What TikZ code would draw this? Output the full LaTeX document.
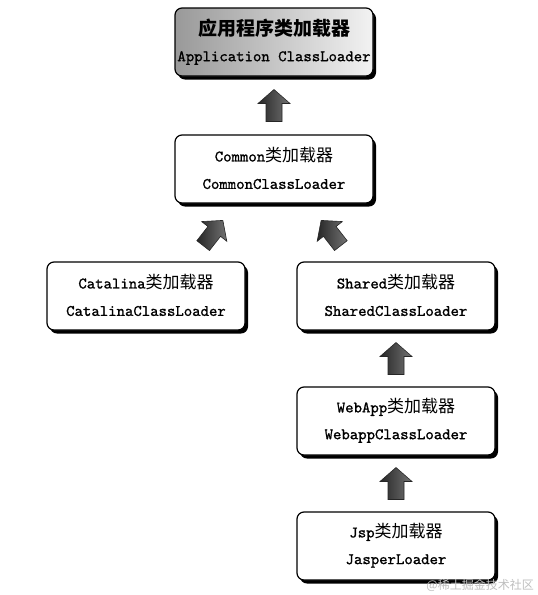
\documentclass[tikz,border=0pt]{standalone}
\usepackage{fontspec}
\setmonofont{lmmono10-regular.otf}[FakeBold=1.2]
\newfontfamily\cjk{Noto Sans CJK SC}
\usetikzlibrary{shadows,calc}
\newcommand\zhtxt[1]{{\cjk\mdseries\fontsize{17}{17}\selectfont #1}}
\newcommand\zhbold[1]{{\cjk\bfseries\fontsize{19}{19}\selectfont #1}}
\begin{document}
\begin{tikzpicture}[x=1pt,y=-1pt,
  loader/.style={draw=black, line width=1.2pt, rounded corners=7pt, fill=white,
    minimum width=198pt, minimum height=68pt, inner sep=0pt,
    drop shadow={shadow xshift=3pt, shadow yshift=-3.5pt, fill=black, opacity=1}},
  apploader/.style={loader, left color=black!40, right color=black!5},
  line/.style={font=\ttfamily\bfseries\fontsize{16}{16}\selectfont, inner sep=0pt, text=black},
  arrowfill/.style={draw=black!85, line width=0.6pt, left color=black!85, right color=black!55},
  uparrow/.pic={\path[arrowfill] (0,-16) -- (16,-2) -- (8,-2) -- (8,16) -- (-8,16) -- (-8,-2) -- (-16,-2) -- cycle;}
]
\path[use as bounding box, fill=white] (0,0) rectangle (538,595);

\node[apploader] (app) at (274,42) {};
\node[loader] (common) at (274,169) {};
\node[loader] (catalina) at (146,296) {};
\node[loader] (shared) at (396,296) {};
\node[loader] (webapp) at (396,421) {};
\node[loader] (jsp) at (396,546) {};

\node[line] (appA) at ($(app.center)+(0,-14)$) {\zhbold{应用程序类加载器}};
\node[line] (appB) at ($(app.center)+(0,16)$) {Application ClassLoader};
\node[line] (comA) at ($(common.center)+(0,-14)$) {Common\zhtxt{类加载器}};
\node[line] (comB) at ($(common.center)+(0,15)$) {CommonClassLoader};
\node[line] (catA) at ($(catalina.center)+(0,-14)$) {Catalina\zhtxt{类加载器}};
\node[line] (catB) at ($(catalina.center)+(0,15)$) {CatalinaClassLoader};
\node[line] (shA) at ($(shared.center)+(0,-14)$) {Shared\zhtxt{类加载器}};
\node[line] (shB) at ($(shared.center)+(0,15)$) {SharedClassLoader};
\node[line] (waA) at ($(webapp.center)+(0,-14)$) {WebApp\zhtxt{类加载器}};
\node[line] (waB) at ($(webapp.center)+(0,15)$) {WebappClassLoader};
\node[line] (jsA) at ($(jsp.center)+(0,-14)$) {Jsp\zhtxt{类加载器}};
\node[line] (jsB) at ($(jsp.center)+(0,15)$) {JasperLoader};

\pic at ($(app.south)!0.5!(common.north)$) {uparrow};
\pic[rotate=-38] at (213,233) {uparrow};
\pic[rotate=38] at (331,233) {uparrow};
\pic at ($(shared.south)!0.5!(webapp.north)$) {uparrow};
\pic at ($(webapp.south)!0.5!(jsp.north)$) {uparrow};

\node[inner sep=0pt, anchor=east, text=black!25, font=\cjk\fontsize{12}{12}\selectfont] (wm) at (534,585) {@稀土掘金技术社区};
\end{tikzpicture}
\end{document}
